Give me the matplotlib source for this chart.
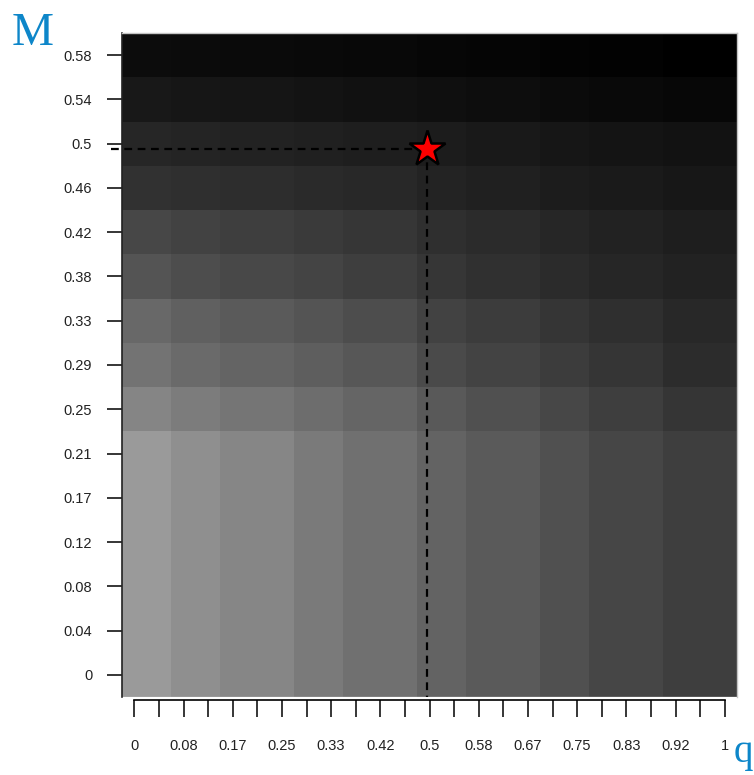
import numpy as np
import matplotlib.pyplot as plt

# grid: q in steps of 1/24 (25 columns), M in steps of 1/24 (15 rows)
n_q = 25
n_M = 15
x_labels = ["0", "0.08", "0.17", "0.25", "0.33", "0.42", "0.5",
            "0.58", "0.67", "0.75", "0.83", "0.92", "1"]
y_labels = ["0", "0.04", "0.08", "0.12", "0.17", "0.21", "0.25", "0.29",
            "0.33", "0.38", "0.42", "0.46", "0.5", "0.54", "0.58"]

# columns that share a colour (left to right)
col_group_sizes = [2, 2, 3, 2, 3, 2, 3, 2, 3, 3]

# grey level (0-255) of each column group, one list per row, from M=0.58 down to M=0.25
gray_rows = [
    [12, 11, 10, 9, 8, 6, 5, 3, 2, 0],            # 0.58
    [24, 22, 21, 19, 17, 15, 13, 11, 9, 7],       # 0.54
    [38, 36, 34, 32, 30, 28, 25, 22, 20, 18],     # 0.5
    [49, 47, 45, 42, 40, 35, 32, 28, 26, 23],     # 0.46
    [71, 66, 62, 58, 54, 47, 43, 38, 34, 30],     # 0.42
    [84, 77, 72, 68, 62, 54, 48, 43, 38, 34],     # 0.38
    [104, 96, 90, 84, 77, 66, 60, 53, 47, 40],    # 0.33
    [115, 106, 100, 94, 87, 74, 67, 60, 53, 44],  # 0.29
    [133, 124, 117, 109, 101, 89, 80, 71, 62, 53],  # 0.25
]
# rows M = 0 .. 0.21 all look the same
gray_low = [154, 143, 134, 122, 112, 99, 90, 80, 70, 62]
n_low_rows = 6

star_q = 0.495
star_M = 0.495

Z = np.vstack([np.tile(gray_low, (n_low_rows, 1)), np.array(gray_rows[::-1])])
Z = np.repeat(Z, col_group_sizes, axis=1)

step = 1 / 24
q_edges = (np.arange(n_q + 1) - 0.5) * step
M_edges = (np.arange(n_M + 1) - 0.5) * step

fig = plt.figure(figsize=(7.54, 7.75), dpi=100)
ax = fig.add_axes([122 / 754, 1 - 697 / 775, 615 / 754, 664 / 775])
ax.pcolormesh(q_edges, M_edges, Z, cmap="gray", vmin=0, vmax=255, shading="flat")
ax.set_xlim(q_edges[0], q_edges[-1])
ax.set_ylim(M_edges[0], M_edges[-1])

# dashed guides to the star
ax.plot([-0.04, star_q], [star_M, star_M], color="black", lw=1.6,
        linestyle=(0, (3.5, 2.5)), clip_on=False, zorder=3)
ax.plot([star_q, star_q], [star_M, M_edges[0]], color="black", lw=1.6,
        linestyle=(0, (3.5, 2.5)), zorder=3)
ax.plot(star_q, star_M, marker="*", ms=27, mfc="red", mec="black", mew=1.8,
        zorder=4, clip_on=False)

# axes styling (R-like)
for s in ["top", "right"]:
    ax.spines[s].set_color("#c4c4c4")
    ax.spines[s].set_linewidth(1)
ax.spines["left"].set_color("#222222")
ax.spines["left"].set_linewidth(1.2)
ax.spines["bottom"].set_position(("outward", 2.5))
ax.spines["bottom"].set_bounds(0, 1)
ax.spines["bottom"].set_linewidth(1.2)
ax.axhline(M_edges[0], color="#c4c4c4", lw=1)

ax.set_xticks(np.arange(len(x_labels)) * 2 * step)
ax.set_xticklabels(x_labels)
ax.set_xticks(np.arange(1, n_q, 2) * step, minor=True)
ax.set_yticks(np.arange(n_M) * step)
ax.set_yticklabels(y_labels)

ax.tick_params(axis="x", which="both", direction="out", length=12, width=1.1,
               pad=16, labelsize=10.5)
ax.tick_params(axis="y", direction="out", length=10.5, width=1.1, pad=11,
               labelsize=10.5)
for lab in ax.get_xticklabels() + ax.get_yticklabels():
    lab.set_fontfamily("Liberation Sans")
    lab.set_color("#222222")

fig.text(12 / 754, 1 - 45 / 775, "M", fontsize=34, family="Liberation Serif",
         color="#0d86c9", ha="left", va="baseline")
fig.text(734 / 754, 1 - 762 / 775, "q", fontsize=28, family="Liberation Serif",
         color="#0d86c9", ha="left", va="baseline")

fig.savefig("out.png", dpi=100)
